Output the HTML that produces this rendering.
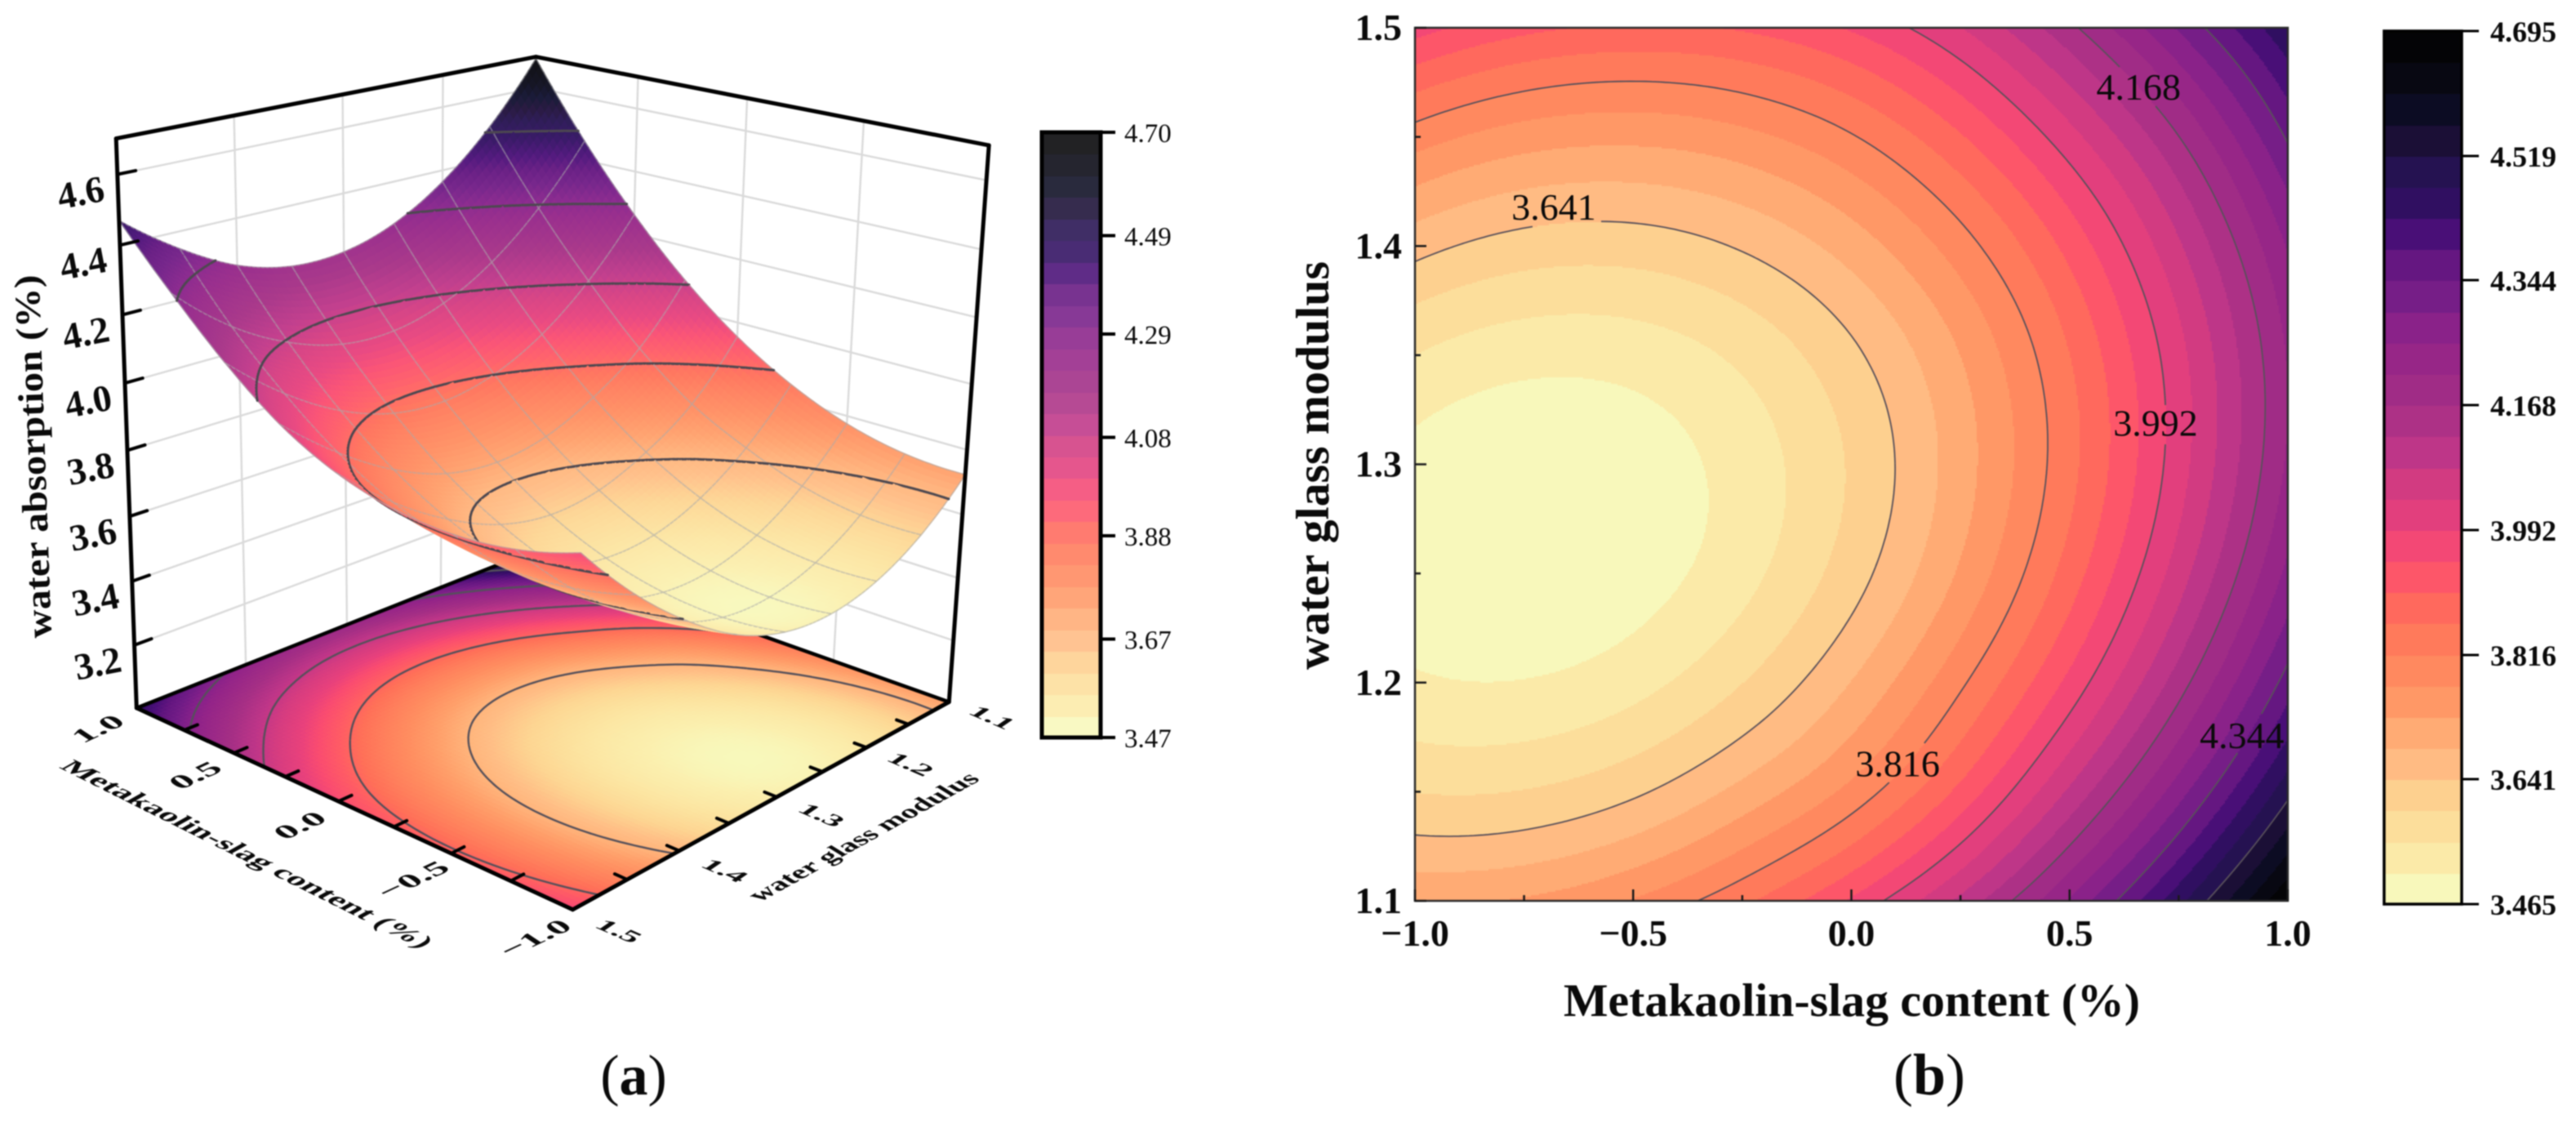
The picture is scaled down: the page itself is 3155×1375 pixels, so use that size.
<!DOCTYPE html>
<html lang="en">
<head>
<meta charset="utf-8">
<title>Water absorption response surface and contour plot</title>
<style>
html,body{margin:0;padding:0;background:#fff;}
svg{display:block;filter:blur(0.7px);}
text{font-family:"Liberation Serif",serif;fill:#0a0a0a;}
</style>
</head>
<body>
<svg id="figure" xmlns="http://www.w3.org/2000/svg" width="3155" height="1375" viewBox="0 0 3155 1375">
  <rect width="3155" height="1375" fill="#fff"/>
  <g id="panel-a"></g>
  <g id="panel-b"></g>
  <text x="776" y="1340" text-anchor="middle" font-size="70">(<tspan font-weight="bold">a</tspan>)</text>
  <text x="2363" y="1340" text-anchor="middle" font-size="72">(<tspan font-weight="bold">b</tspan>)</text>
</svg>
<script>
// ---------- data ----------
const contentValues = [-1, -0.75, -0.5, -0.25, 0, 0.25, 0.5, 0.75, 1];
const modulusValues = [1.1, 1.15, 1.2, 1.25, 1.3, 1.35, 1.4, 1.45, 1.5];
// one row per modulus value, one column per content value
const absorptionRow110 = [3.724, 3.734, 3.776, 3.850, 3.955, 4.092, 4.262, 4.462, 4.695];
const absorptionRow115 = [3.596, 3.599, 3.633, 3.699, 3.787, 3.917, 4.088, 4.281, 4.506];
const absorptionRow120 = [3.516, 3.511, 3.537, 3.596, 3.686, 3.808, 3.961, 4.147, 4.364];
const absorptionRow125 = [3.482, 3.469, 3.488, 3.538, 3.621, 3.735, 3.881, 4.059, 4.268];
const absorptionRow130 = [3.494, 3.473, 3.485, 3.528, 3.602, 3.709, 3.847, 4.017, 4.219];
const absorptionRow135 = [3.553, 3.525, 3.528, 3.563, 3.631, 3.729, 3.860, 4.022, 4.216];
const absorptionRow140 = [3.658, 3.622, 3.618, 3.646, 3.705, 3.796, 3.919, 4.074, 4.260];
const absorptionRow145 = [3.795, 3.751, 3.740, 3.760, 3.812, 3.900, 4.020, 4.167, 4.350];
const absorptionRow150 = [3.968, 3.917, 3.898, 3.910, 3.954, 4.035, 4.157, 4.306, 4.470];
const absorptionRows = [absorptionRow110, absorptionRow115, absorptionRow120, absorptionRow125, absorptionRow130, absorptionRow135, absorptionRow140, absorptionRow145, absorptionRow150];

const contourLevelsA = [3.67, 3.88, 4.08, 4.29, 4.49];
const contourLevelsB = [3.641, 3.816, 3.992, 4.168, 4.344, 4.519];
const contourLabelTextB = ["3.641", "4.168", "3.992", "3.816", "4.344"];
const contourLabelContentB = [-0.682, 0.658, 0.697, 0.106, 0.895];
const contourLabelModulusB = [1.418, 1.473, 1.319, 1.163, 1.176];

const zTicksA = [3.2, 3.4, 3.6, 3.8, 4.0, 4.2, 4.4, 4.6];
const contentTicksA = [-1, -0.75, -0.5, -0.25, 0, 0.25, 0.5, 0.75, 1];
const contentLabelsA = ["\u22121.0", "\u22120.5", "0.0", "0.5", "1.0"];
const contentLabelValuesA = [-1, -0.5, 0, 0.5, 1];
const modulusTicksA = [1.1, 1.15, 1.2, 1.25, 1.3, 1.35, 1.4, 1.45, 1.5];
const modulusLabelsA = ["1.1", "1.2", "1.3", "1.4", "1.5"];
const modulusLabelValuesA = [1.1, 1.2, 1.3, 1.4, 1.5];
const wallContentLines = [-0.5, 0, 0.5];
const wallModulusLines = [1.2, 1.3, 1.4];
const colorbarTicksA = ["3.47", "3.67", "3.88", "4.08", "4.29", "4.49", "4.70"];
const colorbarTicksB = ["3.465", "3.641", "3.816", "3.992", "4.168", "4.344", "4.519", "4.695"];
const contentMajorB = ["\u22121.0", "\u22120.5", "0.0", "0.5", "1.0"];
const contentMajorValuesB = [-1, -0.5, 0, 0.5, 1];
const contentMinorValuesB = [-0.75, -0.25, 0.25, 0.75];
const modulusMajorB = ["1.1", "1.2", "1.3", "1.4", "1.5"];
const modulusMajorValuesB = [1.1, 1.2, 1.3, 1.4, 1.5];
const modulusMinorValuesB = [1.15, 1.25, 1.35, 1.45];

const rampValues = [3.465, 3.49, 3.54, 3.59, 3.641, 3.67, 3.72, 3.77, 3.816, 3.86, 3.90, 3.95, 3.992, 4.05, 4.10, 4.168, 4.26, 4.30, 4.344, 4.38, 4.42, 4.47, 4.519, 4.55, 4.58, 4.62, 4.695];
const rampColors = ["#f8f8bb", "#fbefae", "#fce39f", "#fdd592", "#ffbd85", "#ffb57c", "#ff9f6a", "#ff8d60", "#ff7f5c", "#ff7058", "#ff5d64", "#fa4c70", "#e8417c", "#d53c80", "#bf3688", "#a52f85", "#932488", "#85218a", "#701c86", "#641680", "#4a0f78", "#2f0f60", "#24124f", "#1f0f38", "#0f1030", "#0a0a1a", "#040406"];
const bandCount = 28;
const zMinB = 3.465, zMaxB = 4.695;
const zFloorA = 3.0, zTopA = 4.7;

// ---------- helpers ----------
const NS = "http://www.w3.org/2000/svg";
const panelA = document.getElementById("panel-a");
const panelB = document.getElementById("panel-b");
function make(tag, parent, attrs, txt) {
  const e = document.createElementNS(NS, tag);
  for (const k in attrs) e.setAttribute(k, attrs[k]);
  if (txt !== undefined) e.textContent = txt;
  parent.appendChild(e);
  return e;
}
function hexToRgb(h) { return [parseInt(h.substr(1, 2), 16), parseInt(h.substr(3, 2), 16), parseInt(h.substr(5, 2), 16)]; }
const rampRgb = rampColors.map(hexToRgb);
function rampAt(z, whiten) {
  let i = 0;
  if (z <= rampValues[0]) i = 0;
  else if (z >= rampValues[rampValues.length - 1]) i = rampValues.length - 2;
  else while (rampValues[i + 1] < z) i++;
  let t = (z - rampValues[i]) / (rampValues[i + 1] - rampValues[i]);
  t = Math.max(0, Math.min(1, t));
  const w = whiten || 0;
  const c = [0, 1, 2].map(k => {
    const v = rampRgb[i][k] + (rampRgb[i + 1][k] - rampRgb[i][k]) * t;
    return Math.round(v + (255 - v) * w);
  });
  return "rgb(" + c[0] + "," + c[1] + "," + c[2] + ")";
}
function bandColor(b, whiten) { return rampAt(zMinB + b / (bandCount - 1) * (zMaxB - zMinB), whiten); }

// Extended grid with ghost nodes for Catmull-Rom reading between the picture's grid nodes.
const nG = contentValues.length, mG = modulusValues.length;
const ext = [];
for (let j = -1; j <= mG; j++) {
  const r = [];
  for (let i = -1; i <= nG; i++) r.push(0);
  ext.push(r);
}
for (let j = 0; j < mG; j++) {
  for (let i = 0; i < nG; i++) ext[j + 1][i + 1] = absorptionRows[j][i];
  ext[j + 1][0] = 3 * ext[j + 1][1] - 3 * ext[j + 1][2] + ext[j + 1][3];
  ext[j + 1][nG + 1] = 3 * ext[j + 1][nG] - 3 * ext[j + 1][nG - 1] + ext[j + 1][nG - 2];
}
for (let i = 0; i < nG + 2; i++) {
  ext[0][i] = 3 * ext[1][i] - 3 * ext[2][i] + ext[3][i];
  ext[mG + 1][i] = 3 * ext[mG][i] - 3 * ext[mG - 1][i] + ext[mG - 2][i];
}
function cr(a, b, c, d, t) {
  return 0.5 * (2 * b + (c - a) * t + (2 * a - 5 * b + 4 * c - d) * t * t + (3 * b - a - 3 * c + d) * t * t * t);
}
function zAt(x, y) {
  const gx = Math.max(0, Math.min(nG - 1 - 1e-9, (x - contentValues[0]) / (contentValues[nG - 1] - contentValues[0]) * (nG - 1)));
  const gy = Math.max(0, Math.min(mG - 1 - 1e-9, (y - modulusValues[0]) / (modulusValues[mG - 1] - modulusValues[0]) * (mG - 1)));
  const i = Math.floor(gx), j = Math.floor(gy), tx = gx - i, ty = gy - j;
  const v = [];
  for (let k = 0; k < 4; k++) {
    const r = ext[j + k];
    v.push(cr(r[i], r[i + 1], r[i + 2], r[i + 3], tx));
  }
  return cr(v[0], v[1], v[2], v[3], ty);
}
// marching squares inside one cell: returns list of point pairs in domain coordinates
function cellContour(x0, x1, y0, y1, z00, z10, z11, z01, level) {
  const pts = [];
  function cross(za, zb, ax, ay, bx, by) {
    if ((za < level) !== (zb < level)) {
      const t = (level - za) / (zb - za);
      pts.push([ax + (bx - ax) * t, ay + (by - ay) * t]);
    }
  }
  cross(z00, z10, x0, y0, x1, y0);
  cross(z10, z11, x1, y0, x1, y1);
  cross(z11, z01, x1, y1, x0, y1);
  cross(z01, z00, x0, y1, x0, y0);
  const out = [];
  if (pts.length >= 2) out.push([pts[0], pts[1]]);
  if (pts.length === 4) out.push([pts[2], pts[3]]);
  return out;
}

// ---------- panel B : axis functions ----------
const bLeft = 1733, bRight = 2802, bTop = 34, bBottom = 1103;
function xB(x) { return bLeft + (x + 1) / 2 * (bRight - bLeft); }
function yB(y) { return bBottom - (y - 1.1) / 0.4 * (bBottom - bTop); }

const heatB = make("g", panelB, { "shape-rendering": "crispEdges" });


const cellB = 2;
function flushRun(runStart, runEnd, py, runBand) {
  const r = make("rect", heatB, { x: runStart, y: py, width: runEnd - runStart, height: Math.min(cellB, bBottom - py), fill: bandColor(runBand) });
  
  
}
for (let py = bTop; py < bBottom; py += cellB) {
  const yVal = 1.1 + (bBottom - (py + cellB / 2)) / (bBottom - bTop) * 0.4;
  let runStart = bLeft, runBand = -1;
  for (let px = bLeft; px < bRight; px += cellB) {
    const xVal = -1 + (px + cellB / 2 - bLeft) / (bRight - bLeft) * 2;
    const z = zAt(xVal, yVal);
    const b = Math.max(0, Math.min(bandCount - 1, Math.floor((z - zMinB) / (zMaxB - zMinB) * bandCount)));
    if (b !== runBand) {
      if (runBand >= 0) flushRun(runStart, px, py, runBand);
      runStart = px; runBand = b;
    }
  }
  flushRun(runStart, bRight, py, runBand);
}
// label boxes interrupt contour lines
const labelBoxes = contourLabelTextB.map((t, i) => ({ cx: xB(contourLabelContentB[i]), cy: yB(contourLabelModulusB[i]) }));
const contourGroupB = make("g", panelB, { fill: "none", stroke: "#58505a", "stroke-width": 1.8 });


contourLevelsB.forEach(level => {
  let d = "";
  const step = 6;
  for (let py = bTop; py < bBottom; py += step) {
    for (let px = bLeft; px < bRight; px += step) {
      const x0 = -1 + (px - bLeft) / (bRight - bLeft) * 2, x1 = -1 + (Math.min(px + step, bRight) - bLeft) / (bRight - bLeft) * 2;
      const y1 = 1.1 + (bBottom - py) / (bBottom - bTop) * 0.4, y0 = 1.1 + (bBottom - Math.min(py + step, bBottom)) / (bBottom - bTop) * 0.4;
      const segs = cellContour(x0, x1, y0, y1, zAt(x0, y0), zAt(x1, y0), zAt(x1, y1), zAt(x0, y1), level);
      segs.forEach(s => {
        const ax = xB(s[0][0]), ay = yB(s[0][1]), bx = xB(s[1][0]), by = yB(s[1][1]);
        const hit = labelBoxes.some(l => Math.abs((ax + bx) / 2 - l.cx) < 56 && Math.abs((ay + by) / 2 - l.cy) < 24);
        if (!hit) d += "M" + ax.toFixed(1) + " " + ay.toFixed(1) + "L" + bx.toFixed(1) + " " + by.toFixed(1);
      });
    }
  }
  const p = make("path", contourGroupB, { d: d });
  
  
});
contourLabelTextB.forEach((t, i) => {
  const l = make("text", panelB, { x: labelBoxes[i].cx, y: labelBoxes[i].cy + 16, "text-anchor": "middle", "font-size": 46 }, t);
  
  
});
const frameB = make("rect", panelB, { x: bLeft, y: bTop, width: bRight - bLeft, height: bBottom - bTop, fill: "none", stroke: "#2a2a2a", "stroke-width": 2.5 });


function tickB(x1, y1, x2, y2, name) {
  const t = make("line", panelB, { x1: x1, y1: y1, x2: x2, y2: y2, stroke: "#1a1a1a", "stroke-width": 2.5 });
  
  
}
contentMajorValuesB.forEach((v, i) => {
  tickB(xB(v), bBottom, xB(v), bBottom - 14, "x-major-tick");
  const l = make("text", panelB, { x: xB(v), y: 1158, "text-anchor": "middle", "font-size": 46, "font-weight": "bold" }, contentMajorB[i]);
  
  
});
contentMinorValuesB.forEach(v => tickB(xB(v), bBottom, xB(v), bBottom - 7, "x-minor-tick"));
modulusMajorValuesB.forEach((v, i) => {
  tickB(bLeft, yB(v), bLeft + 14, yB(v), "y-major-tick");
  const l = make("text", panelB, { x: 1717, y: yB(v) + 15, "text-anchor": "end", "font-size": 46, "font-weight": "bold" }, modulusMajorB[i]);
  
  
});
modulusMinorValuesB.forEach(v => tickB(bLeft, yB(v), bLeft + 7, yB(v), "y-minor-tick"));
const titleXB = make("text", panelB, { x: 2268, y: 1244, "text-anchor": "middle", "font-size": 57, "font-weight": "bold", textLength: 706, lengthAdjust: "spacingAndGlyphs" }, "Metakaolin-slag content (%)");


const titleYB = make("text", panelB, { transform: "translate(1627 570) rotate(-90)", "text-anchor": "middle", "font-size": 57, "font-weight": "bold", textLength: 500, lengthAdjust: "spacingAndGlyphs" }, "water glass modulus");



// colour bars
function colorbar(parent, left, right, top, bottom, labels, lw, whiten, tickEnd, labelX, fontSize, weight, nameStem) {
  const g = make("g", parent, { "shape-rendering": "crispEdges" });
  
  
  const lo = parseFloat(labels[0]), hi = parseFloat(labels[labels.length - 1]);
  function yC(v) { return bottom - (v - lo) / (hi - lo) * (bottom - top); }
  for (let b = 0; b < bandCount; b++) {
    const vLo = lo + b / bandCount * (hi - lo), vHi = lo + (b + 1) / bandCount * (hi - lo);
    const r = make("rect", g, { x: left, y: Math.round(yC(vHi)), width: right - left, height: Math.round(yC(vLo)) - Math.round(yC(vHi)) + 1, fill: bandColor(b, whiten) });
    
    
  }
  const f = make("rect", parent, { x: left, y: top, width: right - left, height: bottom - top, fill: "none", stroke: "#000", "stroke-width": lw });
  
  
  labels.forEach(t => {
    const y = yC(parseFloat(t));
    const tk = make("line", parent, { x1: right, y1: y, x2: tickEnd, y2: y, stroke: "#000", "stroke-width": Math.max(3, lw - 1) });
    
    
    const tx = make("text", parent, { x: labelX, y: y + fontSize * 0.36, "font-size": fontSize, "font-weight": weight }, t);
    
    
  });
}
colorbar(panelB, 2920, 3015, 38, 1107, colorbarTicksB, 3.5, 0, 3036, 3050, 36, "bold", "colorbar-b");
colorbar(panelA, 1276, 1348, 162, 903, colorbarTicksA, 5, 0.12, 1366, 1377, 33, "normal", "colorbar-a");

// ---------- panel A : projective axis functions ----------
const projectionAnchors = [
  [0, 0, 0, 1162, 860], [1, 1, 0, 167, 868], [0, 1, 0, 701, 1113], [1, 0, 0, 648, 676],
  [1, 1, 1, 143, 169], [0, 0, 1, 1212, 178], [1, 0, 1, 655, 70]
];
function solveProjection() {
  const rows = [], rhs = [];
  projectionAnchors.forEach(a => {
    const u = a[0], v = a[1], t = a[2], sx = a[3] / 1000, sy = a[4] / 1000;
    rows.push([u, v, t, 1, 0, 0, 0, 0, -sx * u, -sx * v, -sx * t]); rhs.push(sx);
    rows.push([0, 0, 0, 0, u, v, t, 1, -sy * u, -sy * v, -sy * t]); rhs.push(sy);
  });
  const n = 11, A = [];
  for (let i = 0; i < n; i++) {
    const r = [];
    for (let j = 0; j < n; j++) {
      let s = 0;
      rows.forEach(q => { s += q[i] * q[j]; });
      r.push(s);
    }
    let s = 0;
    rows.forEach((q, k) => { s += q[i] * rhs[k]; });
    r.push(s);
    A.push(r);
  }
  for (let c = 0; c < n; c++) {
    let p = c;
    for (let i = c + 1; i < n; i++) if (Math.abs(A[i][c]) > Math.abs(A[p][c])) p = i;
    const tmp = A[c]; A[c] = A[p]; A[p] = tmp;
    for (let i = 0; i < n; i++) {
      if (i !== c) {
        const f = A[i][c] / A[c][c];
        for (let j = c; j <= n; j++) A[i][j] -= f * A[c][j];
      }
    }
  }
  return A.map((r, i) => r[n] / r[i]);
}
const P = solveProjection();
function proj(x, y, z) {
  const u = (x + 1) / 2, v = (y - 1.1) / 0.4, t = (z - zFloorA) / (zTopA - zFloorA);
  const w = P[8] * u + P[9] * v + P[10] * t + 1;
  return [1000 * (P[0] * u + P[1] * v + P[2] * t + P[3]) / w, 1000 * (P[4] * u + P[5] * v + P[6] * t + P[7]) / w, w];
}
function f1(v) { return v.toFixed(1); }
function line3(parent, a, b, stroke, width, name) {
  const l = make("line", parent, { x1: f1(a[0]), y1: f1(a[1]), x2: f1(b[0]), y2: f1(b[1]), stroke: stroke, "stroke-width": width, "stroke-linecap": "round" });
  
  
  return l;
}

// walls
const walls = make("g", panelA, {});


zTicksA.forEach(z => {
  line3(walls, proj(1, 1.5, z), proj(1, 1.1, z), "#dadada", 2.4, "wall-gridline");
  line3(walls, proj(1, 1.1, z), proj(-1, 1.1, z), "#dadada", 2.4, "wall-gridline");
});
wallModulusLines.forEach(y => line3(walls, proj(1, y, zFloorA), proj(1, y, zTopA), "#dadada", 2.4, "wall-gridline"));
wallContentLines.forEach(x => line3(walls, proj(x, 1.1, zFloorA), proj(x, 1.1, zTopA), "#dadada", 2.4, "wall-gridline"));
line3(walls, proj(1, 1.1, zFloorA), proj(1, 1.1, zTopA), "#dadada", 2.4, "wall-gridline");

// floor projection
const meshN = 96, meshEvery = 12;
const gridX = [], gridY = [], gridZ = [];
for (let i = 0; i <= meshN; i++) gridX.push(-1 + 2 * i / meshN);
for (let j = 0; j <= meshN; j++) gridY.push(1.1 + 0.4 * j / meshN);
for (let j = 0; j <= meshN; j++) {
  const r = [];
  for (let i = 0; i <= meshN; i++) r.push(zAt(gridX[i], gridY[j]));
  gridZ.push(r);
}
const floorG = make("g", panelA, {});


for (let j = 0; j < meshN; j++) {
  for (let i = 0; i < meshN; i++) {
    const a = proj(gridX[i], gridY[j], zFloorA), b = proj(gridX[i + 1], gridY[j], zFloorA), c = proj(gridX[i + 1], gridY[j + 1], zFloorA), d = proj(gridX[i], gridY[j + 1], zFloorA);
    const col = rampAt((gridZ[j][i] + gridZ[j][i + 1] + gridZ[j + 1][i] + gridZ[j + 1][i + 1]) / 4);
    const poly = make("polygon", floorG, { points: [a, b, c, d].map(p => f1(p[0]) + "," + f1(p[1])).join(" "), fill: col, stroke: col, "stroke-width": 0.9 });
    
    
  }
}
const floorContours = make("g", panelA, { fill: "none", stroke: "#55505a", "stroke-width": 2.4 });


contourLevelsA.forEach(level => {
  let d = "";
  for (let j = 0; j < meshN; j++) {
    for (let i = 0; i < meshN; i++) {
      cellContour(gridX[i], gridX[i + 1], gridY[j], gridY[j + 1], gridZ[j][i], gridZ[j][i + 1], gridZ[j + 1][i + 1], gridZ[j + 1][i], level).forEach(s => {
        const p = proj(s[0][0], s[0][1], zFloorA), q = proj(s[1][0], s[1][1], zFloorA);
        d += "M" + f1(p[0]) + " " + f1(p[1]) + "L" + f1(q[0]) + " " + f1(q[1]);
      });
    }
  }
  const path = make("path", floorContours, { d: d });
  
  
});
// floor frame
const C = {
  right: proj(-1, 1.1, zFloorA), left: proj(1, 1.5, zFloorA), front: proj(-1, 1.5, zFloorA), back: proj(1, 1.1, zFloorA),
  leftTop: proj(1, 1.5, zTopA), backTop: proj(1, 1.1, zTopA), rightTop: proj(-1, 1.1, zTopA)
};
const framePre = make("g", panelA, {});


line3(framePre, C.left, C.back, "#000", 4.5, "floor-edge");
line3(framePre, C.right, C.back, "#000", 4.5, "floor-edge");

// surface, painter sorted far to near
const surfaceG = make("g", panelA, {});


const quads = [];
for (let j = 0; j < meshN; j++) {
  for (let i = 0; i < meshN; i++) {
    const cw = proj((gridX[i] + gridX[i + 1]) / 2, (gridY[j] + gridY[j + 1]) / 2, (gridZ[j][i] + gridZ[j + 1][i + 1]) / 2)[2];
    quads.push({ i: i, j: j, w: cw });
  }
}
quads.sort((a, b) => b.w - a.w);
const edgeSeen = {};
const meshStroke = "rgba(170,170,170,0.6)";
function meshEdge(key, a, b, boundary) {
  if (!boundary && !edgeSeen[key]) { edgeSeen[key] = 1; return; }
  const l = line3(surfaceG, a, b, meshStroke, 1.7, "surface-mesh-segment");
  l.setAttribute("stroke-linecap", "butt");
}
quads.forEach(q => {
  const i = q.i, j = q.j;
  const a = proj(gridX[i], gridY[j], gridZ[j][i]), b = proj(gridX[i + 1], gridY[j], gridZ[j][i + 1]);
  const c = proj(gridX[i + 1], gridY[j + 1], gridZ[j + 1][i + 1]), d = proj(gridX[i], gridY[j + 1], gridZ[j + 1][i]);
  const col = rampAt((gridZ[j][i] + gridZ[j][i + 1] + gridZ[j + 1][i] + gridZ[j + 1][i + 1]) / 4, 0.05);
  const poly = make("polygon", surfaceG, { points: [a, b, c, d].map(p => f1(p[0]) + "," + f1(p[1])).join(" "), fill: col, stroke: col, "stroke-width": 0.9 });
  
  
  if (i % meshEvery === 0) meshEdge("v" + i + "_" + j, a, d, i === 0);
  if ((i + 1) % meshEvery === 0) meshEdge("v" + (i + 1) + "_" + j, b, c, i + 1 === meshN);
  if (j % meshEvery === 0) meshEdge("h" + i + "_" + j, a, b, j === 0);
  if ((j + 1) % meshEvery === 0) meshEdge("h" + i + "_" + (j + 1), d, c, j + 1 === meshN);
  contourLevelsA.forEach(level => {
    cellContour(gridX[i], gridX[i + 1], gridY[j], gridY[j + 1], gridZ[j][i], gridZ[j][i + 1], gridZ[j + 1][i + 1], gridZ[j + 1][i], level).forEach(s => {
      const p = proj(s[0][0], s[0][1], level), r = proj(s[1][0], s[1][1], level);
      line3(surfaceG, p, r, "#4d4850", 3, "surface-contour-segment");
    });
  });
});

// front frame and ticks
const frameA = make("g", panelA, {});


line3(frameA, C.left, C.front, "#000", 5, "floor-front-edge");
line3(frameA, C.front, C.right, "#000", 5, "floor-front-edge");
line3(frameA, C.left, C.leftTop, "#000", 5, "vertical-edge");
line3(frameA, C.right, C.rightTop, "#000", 5, "vertical-edge");
line3(frameA, C.leftTop, C.backTop, "#000", 5, "top-edge");
line3(frameA, C.backTop, C.rightTop, "#000", 5, "top-edge");

zTicksA.forEach(z => {
  line3(frameA, proj(1, 1.5, z), proj(1, 1.485, z), "#000", 4, "z-tick");
  const p = proj(1, 1.5, z);
  const t = make("text", panelA, { transform: "translate(" + f1(p[0] - 45) + " " + f1(p[1] + 22) + ") rotate(-11)", "text-anchor": "middle", "font-size": 46, "font-weight": "bold", dy: "0.34em" }, z.toFixed(1));
  
  
});
contentTicksA.forEach(x => {
  if (Math.abs(x) < 1) line3(frameA, proj(x, 1.5, zFloorA), proj(x, 1.4885, zFloorA), "#000", 4, "content-tick");
});
modulusTicksA.forEach(y => {
  if (y > 1.1 && y < 1.5) line3(frameA, proj(-1, y, zFloorA), proj(-0.95, y, zFloorA), "#000", 4, "modulus-tick");
});
contentLabelValuesA.forEach((x, i) => {
  const p = proj(x, 1.5 + 0.045, zFloorA);
  const t = make("text", panelA, { transform: "matrix(1.08 -0.5 0.66 0.44 " + f1(p[0] + 16) + " " + f1(p[1]) + ")", "text-anchor": "middle", "font-size": 40, "font-weight": "bold", dy: "0.34em" }, contentLabelsA[i]);
  
  
});
modulusLabelValuesA.forEach((y, i) => {
  const p = proj(-1 - 0.18, y, zFloorA);
  const t = make("text", panelA, { transform: "matrix(0.96 0.42 -0.55 0.38 " + f1(p[0]) + " " + f1(p[1]) + ")", "text-anchor": "middle", "font-size": 40, "font-weight": "bold", dy: "0.34em" }, modulusLabelsA[i]);
  
  
});
const titleXA = make("text", panelA, { transform: "matrix(0.894 0.447 -0.7 0.39 302 1046)", "text-anchor": "middle", "font-size": 40, "font-weight": "bold", dy: "0.3em", textLength: 497, lengthAdjust: "spacingAndGlyphs" }, "Metakaolin-slag content (%)");


const titleYA = make("text", panelA, { transform: "matrix(0.874 -0.484 0.7 0.43 1058 1025)", "text-anchor": "middle", "font-size": 38, "font-weight": "bold", dy: "0.3em", textLength: 310, lengthAdjust: "spacingAndGlyphs" }, "water glass modulus");


const titleZA = make("text", panelA, { transform: "translate(42 559) rotate(-92)", "text-anchor": "middle", "font-size": 44, "font-weight": "bold", dy: "0.3em", textLength: 445, lengthAdjust: "spacingAndGlyphs" }, "water absorption (%)");


</script>
</body>
</html>
